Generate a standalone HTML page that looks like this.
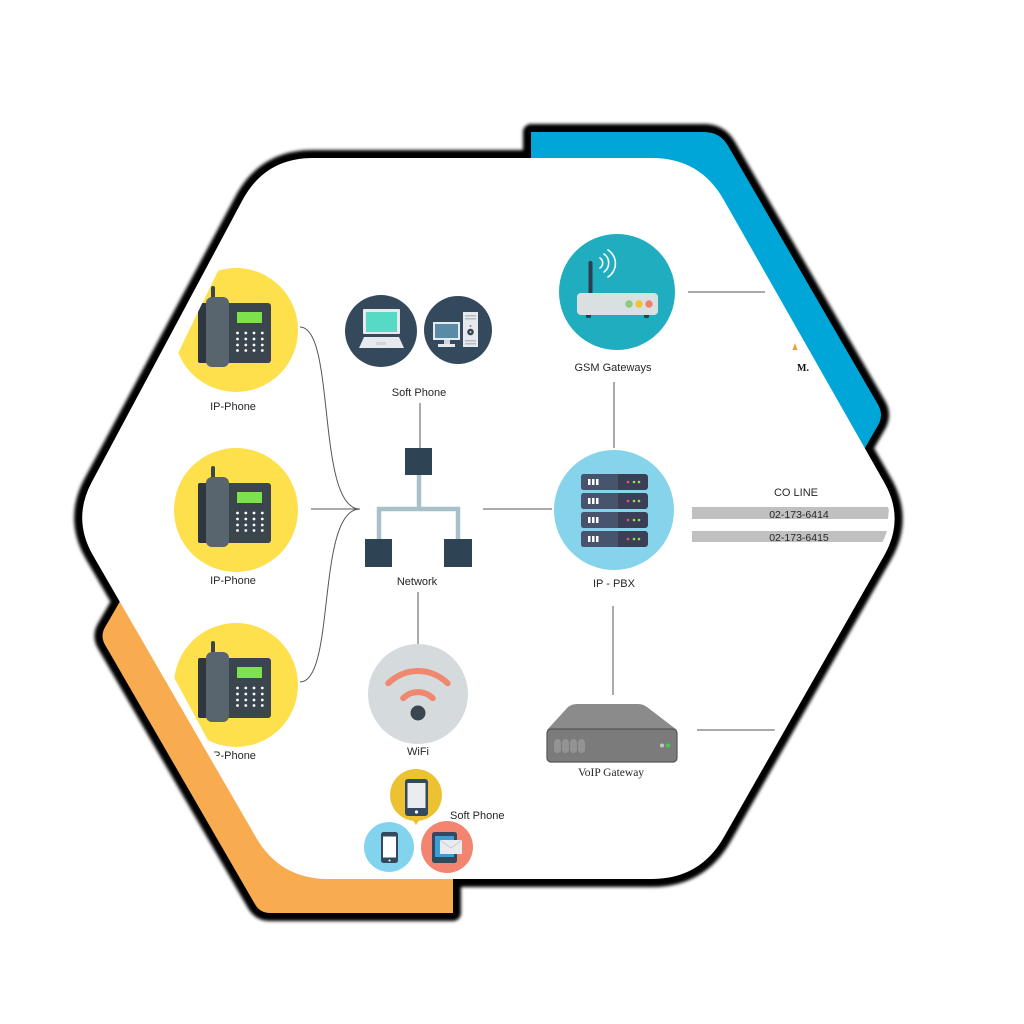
<!DOCTYPE html>
<html><head><meta charset="utf-8"><style>
html,body{margin:0;padding:0;background:#fff;width:1024px;height:1024px;overflow:hidden}
svg{display:block}
text{font-family:"Liberation Sans",Arial,sans-serif;font-size:11px;fill:#262626}
</style></head><body>
<svg width="1024" height="1024" viewBox="0 0 1024 1024" xmlns="http://www.w3.org/2000/svg">
<defs>
<filter id="sh" x="-10%" y="-10%" width="120%" height="120%"><feGaussianBlur stdDeviation="1.7"/></filter>
<clipPath id="hc"><path d="M272,160 L693,160 L895,520 L693,873 L280,873 L93,528 Z"/></clipPath>
<g id="ph">
<circle r="62" fill="#fde04c"/>
<rect x="-38" y="-27" width="73" height="60" rx="3" fill="#3a454e"/>
<rect x="-38" y="-27" width="12" height="60" rx="2" fill="#2e373f"/>
<rect x="-25" y="-44" width="4" height="16" rx="2" fill="#3a454e"/>
<rect x="-30" y="-33" width="23" height="70" rx="6" fill="#58646e"/>
<rect x="1" y="-18" width="25" height="11" fill="#7de24c"/>
<g fill="#fff">
<circle cx="1.5" cy="3" r="1.4"/><circle cx="9.8" cy="3" r="1.4"/><circle cx="18" cy="3" r="1.4"/><circle cx="26.3" cy="3" r="1.4"/>
<circle cx="1.5" cy="9" r="1.4"/><circle cx="9.8" cy="9" r="1.4"/><circle cx="18" cy="9" r="1.4"/><circle cx="26.3" cy="9" r="1.4"/>
<circle cx="1.5" cy="15" r="1.4"/><circle cx="9.8" cy="15" r="1.4"/><circle cx="18" cy="15" r="1.4"/><circle cx="26.3" cy="15" r="1.4"/>
<circle cx="1.5" cy="20.5" r="1.4"/><circle cx="9.8" cy="20.5" r="1.4"/><circle cx="18" cy="20.5" r="1.4"/><circle cx="26.3" cy="20.5" r="1.4"/>
</g>
</g>
<g id="srv">
<rect x="0" y="0" width="67" height="16" rx="3" fill="#3b3f56"/>
<path d="M3,0 H37 V16 H3 Q0,16 0,13 V3 Q0,0 3,0 Z" fill="#48536e"/>
<rect x="7" y="5" width="2.5" height="6" fill="#fff"/><rect x="11" y="5" width="2.5" height="6" fill="#fff"/><rect x="15" y="5" width="2.5" height="6" fill="#fff"/>
<circle cx="47" cy="8" r="1.3" fill="#e3566b"/><circle cx="53" cy="8" r="1.3" fill="#9be04e"/><circle cx="58" cy="8" r="1.3" fill="#9be04e"/>
</g>
</defs>

<!-- shadows -->
<g filter="url(#sh)" fill="#000" stroke="#000" stroke-width="16" stroke-linejoin="round">
<path d="M313,158 L652,158 Q700,158 723.7,199.7 L884.3,482.5 Q905,519 884.2,555.5 L723.8,837.3 Q700,879 652,879 L328,879 Q280,879 256,837.4 L93,555.4 Q72,519 91.8,482 L242.4,200.3 Q265,158 313,158 Z"/>
<path d="M531,132 L704,132 Q720,132 728,145.8 L878,404.6 Q884,415 878,425.4 L790,578 L531,578 Z"/>
<path d="M190,480 L105,627.3 Q100,636 105,644.7 L255,904.3 Q260,913 270,913 L453,913 L453,640 Z"/>
</g>
<!-- colored shapes -->
<path d="M531,132 L704,132 Q720,132 728,145.8 L878,404.6 Q884,415 878,425.4 L790,578 L531,578 Z" fill="#00a6d8"/>
<path d="M190,480 L105,627.3 Q100,636 105,644.7 L255,904.3 Q260,913 270,913 L453,913 L453,640 Z" fill="#f9ab50"/>
<!-- white hexagon -->
<path d="M313,158 L652,158 Q700,158 723.7,199.7 L884.3,482.5 Q905,519 884.2,555.5 L723.8,837.3 Q700,879 652,879 L328,879 Q280,879 256,837.4 L93,555.4 Q72,519 91.8,482 L242.4,200.3 Q265,158 313,158 Z" fill="#fff"/>

<g clip-path="url(#hc)">
<!-- connectors -->
<g fill="none" stroke="#555" stroke-width="1">
<path d="M300,327 C336,327 316,509 360,509"/>
<path d="M300,682 C336,682 316,509 360,509"/>
<path d="M311,509 L360,509"/>
<path d="M420,403 L420,448"/>
<path d="M483,509 L552,509"/>
<path d="M418,592 L418,644"/>
<path d="M688,292 L765,292"/>
<path d="M614,382 L614,448"/>
<path d="M613,606 L613,695"/>
<path d="M697,730 L775,730"/>
</g>

<!-- IP phones -->
<use href="#ph" x="236" y="330"/>
<use href="#ph" x="236" y="510"/>
<use href="#ph" x="236" y="685"/>
<text x="233" y="410" text-anchor="middle">IP-Phone</text>
<text x="233" y="584" text-anchor="middle">IP-Phone</text>
<text x="233" y="759" text-anchor="middle">IP-Phone</text>

<!-- Soft phone PCs -->
<circle cx="381" cy="331" r="36" fill="#344a5c"/>
<circle cx="458" cy="330" r="34" fill="#344a5c"/>
<rect x="363" y="309" width="37" height="25" rx="1" fill="#e6e9ed"/>
<rect x="366" y="312" width="31" height="20" fill="#57dac5"/>
<path d="M364,337 L399,337 L404,348 L359,348 Z" fill="#e6e9ed"/>
<rect x="376" y="342" width="10" height="3" fill="#cfd4d9"/>
<rect x="433" y="322" width="27" height="18" fill="#e6e9ed"/>
<rect x="435" y="324" width="23" height="14" fill="#5a8aa6"/>
<rect x="444" y="340" width="6" height="4" fill="#d0d5da"/>
<rect x="438" y="344" width="17" height="3" fill="#e6e9ed"/>
<rect x="463" y="312" width="15" height="35" fill="#e6e9ed"/>
<rect x="465" y="315" width="11" height="1.5" fill="#b6bcc2"/>
<rect x="465" y="318" width="11" height="1.5" fill="#b6bcc2"/>
<circle cx="470.5" cy="326" r="1" fill="#e3566b"/>
<circle cx="470.5" cy="332" r="3.3" fill="#3a454e"/>
<circle cx="470.5" cy="332" r="1" fill="#c9ced3"/>
<rect x="465" y="340" width="11" height="1.5" fill="#b6bcc2"/>
<rect x="465" y="343" width="11" height="1.5" fill="#b6bcc2"/>
<text x="419" y="396" text-anchor="middle">Soft Phone</text>

<!-- Network -->
<g stroke="#a9bfc9" stroke-width="4.5" fill="none">
<path d="M419,474 L419,509"/>
<path d="M377,509 L460,509"/>
<path d="M379,507 L379,540"/>
<path d="M458,507 L458,540"/>
</g>
<rect x="405" y="448" width="27" height="27" fill="#2e4353"/>
<rect x="365" y="539" width="27" height="28" fill="#2e4353"/>
<rect x="444" y="539" width="28" height="28" fill="#2e4353"/>
<text x="417" y="585" text-anchor="middle">Network</text>

<!-- WiFi -->
<circle cx="418" cy="694" r="50" fill="#d5dbdd"/>
<g fill="none" stroke="#f0876f" stroke-width="6" stroke-linecap="round">
<path d="M388.3,683.3 A42,42 0 0 1 447.7,683.3"/>
<path d="M403.2,698.2 A21,21 0 0 1 432.8,698.2"/>
</g>
<circle cx="418" cy="713" r="7.5" fill="#3a4750"/>
<text x="418" y="755" text-anchor="middle">WiFi</text>

<!-- Mobile soft phones -->
<circle cx="416" cy="795" r="26" fill="#ecc232"/>
<path d="M412,819 L420,819 L416,825 Z" fill="#ecc232"/>
<rect x="405" y="779" width="23" height="37" rx="3" fill="#34495e"/>
<rect x="407.5" y="783" width="18" height="25" fill="#e9edef"/>
<circle cx="416.5" cy="812" r="1.6" fill="#fff"/>
<circle cx="389" cy="847" r="25" fill="#81d3ee"/>
<rect x="381" y="832" width="17" height="31" rx="2.5" fill="#34495e"/>
<rect x="383" y="836.5" width="13" height="21" fill="#fff"/>
<circle cx="389.5" cy="860.5" r="1" fill="#fff"/>
<circle cx="447" cy="847" r="26" fill="#f38470"/>
<rect x="432" y="832" width="25" height="31" rx="2.5" fill="#34495e"/>
<rect x="435" y="836" width="19" height="21" fill="#3a9fd9"/>
<rect x="440" y="840" width="22" height="14" fill="#e8ecee"/>
<path d="M440,840 L451,848 L462,840" fill="none" stroke="#c9d0d4" stroke-width="1"/>
<text x="450" y="819">Soft Phone</text>

<!-- GSM Gateways -->
<circle cx="617" cy="292" r="58" fill="#1fadbf"/>
<rect x="588.5" y="261" width="4" height="34" rx="2" fill="#2c3e50"/>
<g fill="none" stroke="#fff" stroke-width="1.6" stroke-linecap="round">
<path d="M600,258 A6,6 0 0 1 600,268"/>
<path d="M604,254 A11,11 0 0 1 604,272"/>
<path d="M608,250 A16,16 0 0 1 608,277"/>
</g>
<rect x="586" y="313" width="5" height="5" rx="1.5" fill="#2c3e50"/>
<rect x="644" y="313" width="5" height="5" rx="1.5" fill="#2c3e50"/>
<rect x="577" y="293" width="81" height="22" rx="4" fill="#d9e0e2"/>
<circle cx="629" cy="304" r="3.7" fill="#8cc97a"/>
<circle cx="639" cy="304" r="3.7" fill="#f1c232"/>
<circle cx="649" cy="304" r="3.7" fill="#ef7f6e"/>
<text x="613" y="371" text-anchor="middle">GSM Gateways</text>

<!-- M. logo fragment -->
<path d="M795,343 L797.5,350 L792.5,350 Z" fill="#f0a030"/>
<text x="797" y="371" style="font-family:'Liberation Serif',serif;font-size:10px;font-weight:bold;fill:#111">M.</text>

<!-- IP-PBX -->
<circle cx="614" cy="510" r="60" fill="#86d3ec"/>
<use href="#srv" x="581" y="474"/>
<use href="#srv" x="581" y="493"/>
<use href="#srv" x="581" y="512"/>
<use href="#srv" x="581" y="531"/>
<text x="614" y="587" text-anchor="middle">IP - PBX</text>

<!-- CO LINE -->
<text x="796" y="496" text-anchor="middle">CO LINE</text>
<path d="M692,507 L889,507 L888,519 L692,519 Z" fill="#c0c0c0"/>
<path d="M692,531 L887,531 L883,542 L692,542 Z" fill="#c0c0c0"/>
<text x="799" y="518" text-anchor="middle" style="font-size:10.5px">02-173-6414</text>
<text x="799" y="541" text-anchor="middle" style="font-size:10.5px">02-173-6415</text>

<!-- VoIP Gateway -->
<path d="M577,704 L638,704 Q643,704 647,707 L677,730 L547,730 L568,707 Q572,704 577,704 Z" fill="#8b8b8b"/>
<rect x="547" y="729" width="130" height="33" rx="4" fill="#7b7b7b" stroke="#555" stroke-width="1.2"/>
<rect x="554" y="739" width="7" height="14" rx="3.5" fill="#939393"/>
<rect x="562" y="739" width="7" height="14" rx="3.5" fill="#939393"/>
<rect x="570" y="739" width="7" height="14" rx="3.5" fill="#939393"/>
<rect x="578" y="739" width="7" height="14" rx="3.5" fill="#939393"/>
<circle cx="662" cy="745.5" r="2" fill="#c4c4c4"/>
<circle cx="668" cy="745.5" r="2" fill="#3ccf4e"/>
<text x="611" y="776" text-anchor="middle" style="font-family:'Liberation Serif',serif;font-size:11.5px">VoIP Gateway</text>
</g>
</svg>
</body></html>
